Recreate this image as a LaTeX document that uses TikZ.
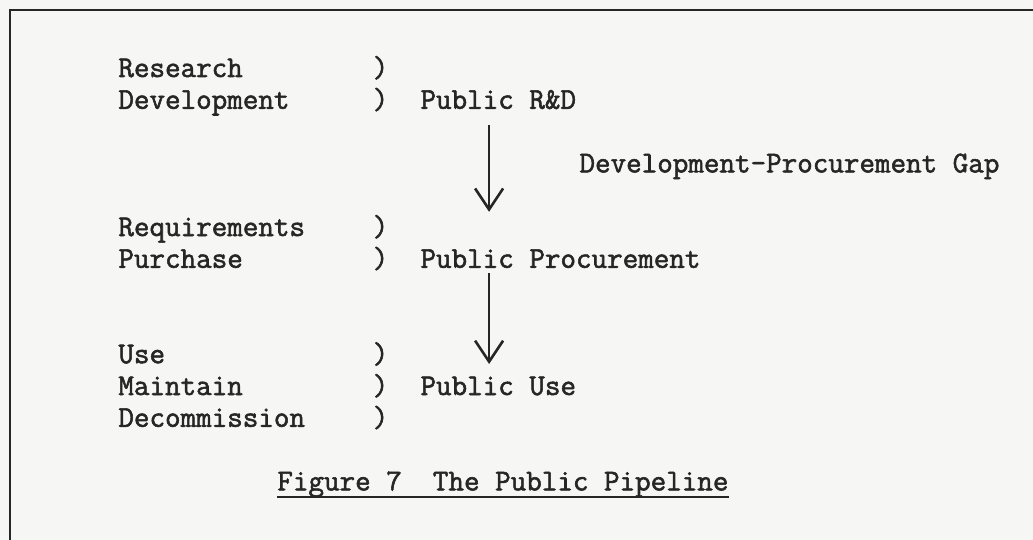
\documentclass[tikz,border=0pt]{standalone}
\usepackage{fontspec}
\usepackage{tikz}
\usetikzlibrary{arrows.meta,calc}
\newfontfamily\Typer{Latin Modern Mono}[RawFeature={embolden=1.8}]
\definecolor{Ink}{HTML}{262626}
\definecolor{Paper}{HTML}{F6F6F4}

\begin{document}
\begin{tikzpicture}[x=0.5pt,y=-0.5pt,
  typed/.style={anchor=base west,inner sep=0pt,text=Ink,font=\Typer\fontsize{15.1pt}{15.9pt}\selectfont},
  flow/.style={Ink,line width=1.3pt,-{Straight Barb[length=10.5pt,width=14pt]}}]
  \useasboundingbox (0,0) rectangle (1033,540);
  \fill[Paper] (0,0) rectangle (1033,540);
  \clip (0,0) rectangle (1033,540);
  \draw[Ink,line width=1.2pt] (10,560) |- (1050,10);
  % one unit = one typed column / one typed line
  \begin{scope}[shift={(118,77)},x=7.95pt,y=-15.9pt]
    \node[typed] (res) at (0,0) {Research};
    \node[typed] (dev) at (0,1) {Development};
    \node[typed] (req) at (0,5) {Requirements};
    \node[typed] (pur) at (0,6) {Purchase};
    \node[typed] (use) at (0,9) {Use};
    \node[typed] (mnt) at (0,10) {Maintain};
    \node[typed] (dcm) at (0,11) {Decommission};
    \foreach \r in {0,1,5,6,9,10,11}
      \node[typed] (par\r) at (16,\r) {)};
    \node[typed] (rnd) at (19,1) {Public R\&D};
    \node[typed] (proc) at (19,6) {Public Procurement};
    \node[typed] (puse) at (19,10) {Public Use};
    \node[typed] (gap) at (29,3) {Development-Procurement Gap};
    \node[typed] (cap) at (10,13) {Figure 7\ \ The Public Pipeline};
  \end{scope}
  \draw[flow] ([xshift=34.5pt,yshift=-8pt]rnd.base west) -- ([xshift=34.5pt,yshift=28pt]proc.base west);
  \draw[flow] ([xshift=34.5pt,yshift=-2.5pt]proc.base west) -- ([xshift=34.5pt,yshift=15.5pt]puse.base west);
  \draw[Ink,line width=1pt] ([yshift=-3.5pt]cap.base west) -- ([yshift=-3.5pt]cap.base east);
\end{tikzpicture}
\end{document}
